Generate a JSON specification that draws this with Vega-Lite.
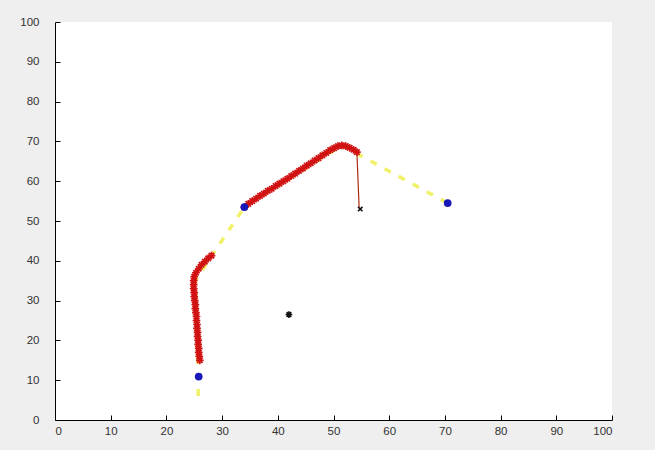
{
  "$schema": "https://vega.github.io/schema/vega-lite/v6.json",
  "autosize": "none",
  "width": 557,
  "height": 398,
  "padding": {"left": 55, "top": 22, "right": 43, "bottom": 30},
  "background": "#efefef",
  "config": {
    "view": {"fill": "white", "stroke": null},
    "axis": {
      "grid": false,
      "domainColor": "#000000",
      "tickColor": "#000000",
      "tickSize": -5,
      "labelFont": "Liberation Sans",
      "labelFontSize": 11.5,
      "labelColor": "#333333",
      "title": null
    }
  },
  "datasets": {
    "plan": [
      {"o": 1, "x": 25.7, "y": 6},
      {"o": 2, "x": 25.7, "y": 11},
      {"o": 3, "x": 25.2, "y": 35},
      {"o": 4, "x": 28, "y": 41},
      {"o": 5, "x": 34, "y": 53.5},
      {"o": 6, "x": 51.5, "y": 69},
      {"o": 7, "x": 70.5, "y": 54.5}
    ],
    "red1": [
      {"o": 1, "x": 26.0, "y": 15, "m": 1},
      {"o": 2, "x": 25.9, "y": 16, "m": 1},
      {"o": 3, "x": 25.8, "y": 17, "m": 1},
      {"o": 4, "x": 25.8, "y": 18, "m": 1},
      {"o": 5, "x": 25.7, "y": 19, "m": 1},
      {"o": 6, "x": 25.7, "y": 20, "m": 1},
      {"o": 7, "x": 25.6, "y": 21, "m": 1},
      {"o": 8, "x": 25.6, "y": 22, "m": 1},
      {"o": 9, "x": 25.5, "y": 23, "m": 1},
      {"o": 10, "x": 25.5, "y": 24, "m": 1},
      {"o": 11, "x": 25.4, "y": 25, "m": 1},
      {"o": 12, "x": 25.4, "y": 26, "m": 1},
      {"o": 13, "x": 25.3, "y": 27, "m": 1},
      {"o": 14, "x": 25.2, "y": 28, "m": 1},
      {"o": 15, "x": 25.2, "y": 29, "m": 1},
      {"o": 16, "x": 25.1, "y": 30, "m": 1},
      {"o": 17, "x": 25.0, "y": 31, "m": 1},
      {"o": 18, "x": 25.0, "y": 32, "m": 1},
      {"o": 19, "x": 24.9, "y": 33, "m": 1},
      {"o": 20, "x": 24.9, "y": 34, "m": 1},
      {"o": 21, "x": 24.9, "y": 35, "m": 1},
      {"o": 22, "x": 25.0, "y": 36, "m": 1},
      {"o": 23, "x": 25.3, "y": 37, "m": 1},
      {"o": 24, "x": 25.8, "y": 38, "m": 1},
      {"o": 25, "x": 26.3, "y": 39, "m": 1},
      {"o": 26, "x": 26.9, "y": 39.8, "m": 1},
      {"o": 27, "x": 27.5, "y": 40.6, "m": 1},
      {"o": 28, "x": 28.1, "y": 41.3, "m": 1}
    ],
    "red2": [
      {"o": 1, "x": 34.0, "y": 53.5, "m": 1},
      {"o": 2, "x": 34.7, "y": 54.3, "m": 1},
      {"o": 3, "x": 35.4, "y": 55.0, "m": 1},
      {"o": 4, "x": 36.1, "y": 55.6, "m": 1},
      {"o": 5, "x": 36.8, "y": 56.3, "m": 1},
      {"o": 6, "x": 37.5, "y": 56.9, "m": 1},
      {"o": 7, "x": 38.2, "y": 57.6, "m": 1},
      {"o": 8, "x": 38.9, "y": 58.1, "m": 1},
      {"o": 9, "x": 39.6, "y": 58.8, "m": 1},
      {"o": 10, "x": 40.3, "y": 59.4, "m": 1},
      {"o": 11, "x": 41.0, "y": 60.0, "m": 1},
      {"o": 12, "x": 41.7, "y": 60.6, "m": 1},
      {"o": 13, "x": 42.4, "y": 61.3, "m": 1},
      {"o": 14, "x": 43.1, "y": 61.9, "m": 1},
      {"o": 15, "x": 43.8, "y": 62.6, "m": 1},
      {"o": 16, "x": 44.5, "y": 63.2, "m": 1},
      {"o": 17, "x": 45.2, "y": 63.9, "m": 1},
      {"o": 18, "x": 45.9, "y": 64.5, "m": 1},
      {"o": 19, "x": 46.6, "y": 65.2, "m": 1},
      {"o": 20, "x": 47.3, "y": 65.8, "m": 1},
      {"o": 21, "x": 48.0, "y": 66.5, "m": 1},
      {"o": 22, "x": 48.7, "y": 67.1, "m": 1},
      {"o": 23, "x": 49.4, "y": 67.8, "m": 1},
      {"o": 24, "x": 50.1, "y": 68.3, "m": 1},
      {"o": 25, "x": 50.8, "y": 68.8, "m": 1},
      {"o": 26, "x": 51.5, "y": 69.0, "m": 1},
      {"o": 27, "x": 52.2, "y": 68.8, "m": 1},
      {"o": 28, "x": 52.9, "y": 68.4, "m": 1},
      {"o": 29, "x": 53.6, "y": 67.9, "m": 1},
      {"o": 30, "x": 54.2, "y": 67.3, "m": 1},
      {"o": 31, "x": 54.6, "y": 53.4, "m": 0}
    ],
    "blue": [
      {"x": 25.8, "y": 10.9},
      {"x": 34.0, "y": 53.5},
      {"x": 70.5, "y": 54.5}
    ],
    "xmark": [{"x": 54.8, "y": 53.0}],
    "star": [{"x": 42.0, "y": 26.5}]
  },
  "encoding": {
    "x": {"field": "x", "type": "quantitative", "scale": {"domain": [0, 100], "nice": false, "zero": false}, "axis": {"values": [0, 10, 20, 30, 40, 50, 60, 70, 80, 90, 100], "labelPadding": 10}},
    "y": {"field": "y", "type": "quantitative", "scale": {"domain": [0, 100], "nice": false, "zero": false}, "axis": {"values": [0, 10, 20, 30, 40, 50, 60, 70, 80, 90, 100], "labelPadding": 21}}
  },
  "layer": [
    {
      "data": {"name": "plan"},
      "mark": {"type": "line", "color": "#eeee44", "strokeWidth": 3.5, "strokeDash": [7, 9], "opacity": 0.8},
      "encoding": {"order": {"field": "o", "type": "quantitative"}}
    },
    {
      "data": {"name": "red1"},
      "mark": {"type": "line", "color": "#cc1111", "strokeWidth": 1},
      "encoding": {"order": {"field": "o", "type": "quantitative"}}
    },
    {
      "data": {"name": "red2"},
      "mark": {"type": "line", "color": "#b02a10", "strokeWidth": 1.2},
      "encoding": {"order": {"field": "o", "type": "quantitative"}}
    },
    {
      "data": {"name": "red1"},
      "mark": {"type": "point", "filled": false, "shape": "M-1,0L1,0M0,-1L0,1M-0.7,-0.7L0.7,0.7M-0.7,0.7L0.7,-0.7", "size": 60, "stroke": "#d01212", "strokeWidth": 1.7, "opacity": 1}
    },
    {
      "data": {"name": "red2"},
      "transform": [{"filter": "datum.m == 1"}],
      "mark": {"type": "point", "filled": false, "shape": "M-1,0L1,0M0,-1L0,1M-0.7,-0.7L0.7,0.7M-0.7,0.7L0.7,-0.7", "size": 60, "stroke": "#d01212", "strokeWidth": 1.7, "opacity": 1}
    },
    {
      "data": {"name": "blue"},
      "mark": {"type": "circle", "color": "#1818b8", "size": 60, "opacity": 1}
    },
    {
      "data": {"name": "xmark"},
      "mark": {"type": "point", "filled": false, "shape": "M-1,-1L1,1M-1,1L1,-1", "size": 20, "stroke": "#111111", "strokeWidth": 1.6, "opacity": 1}
    },
    {
      "data": {"name": "star"},
      "mark": {"type": "point", "filled": false, "shape": "M-1,0L1,0M0,-1L0,1M-0.7,-0.7L0.7,0.7M-0.7,0.7L0.7,-0.7", "size": 45, "stroke": "#111111", "strokeWidth": 1.6, "opacity": 1}
    }
  ]
}
